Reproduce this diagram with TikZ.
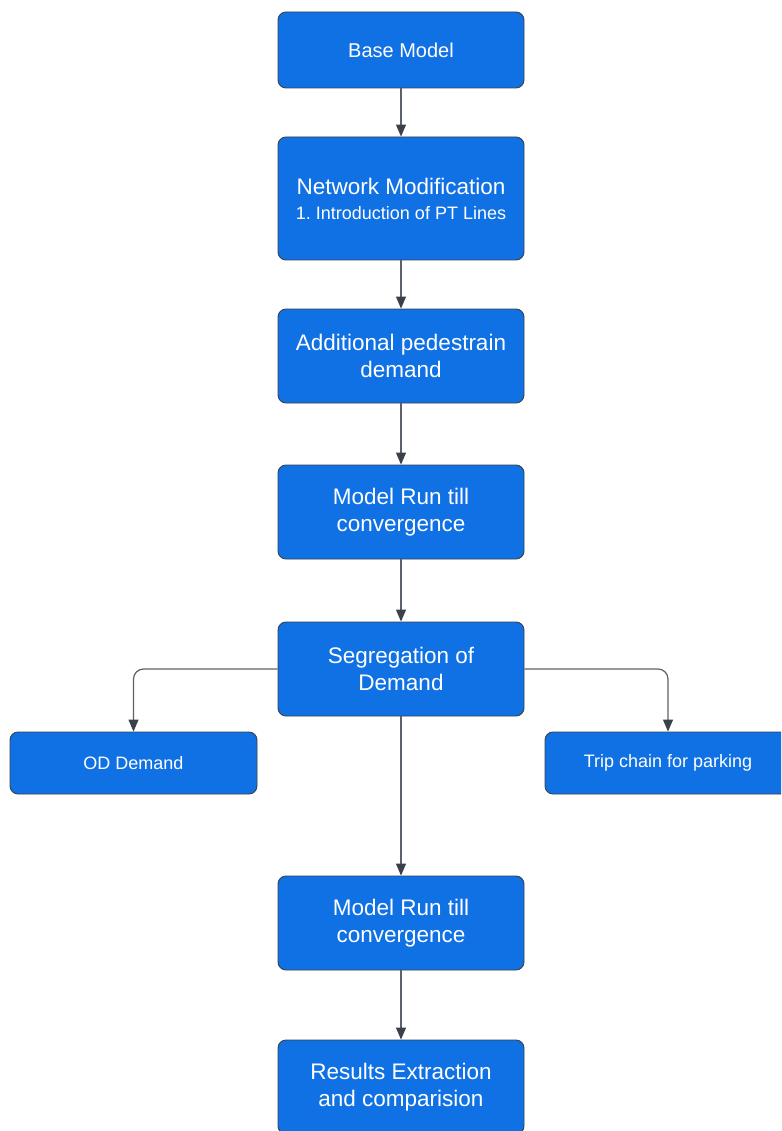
\documentclass[tikz,border=0pt]{standalone}
\usepackage{fontspec}
\setmainfont{Liberation Sans}
\usepackage{tikz}
\usetikzlibrary{arrows.meta}
\definecolor{boxblue}{RGB}{16,113,229}
\definecolor{boxedge}{RGB}{58,65,74}
\definecolor{linegray}{RGB}{92,98,106}
\frenchspacing

\begin{document}
\begin{tikzpicture}[x=1pt,y=-1pt,
    stage/.style={rectangle,rounded corners=8pt,fill=boxblue,draw=boxedge,line width=0.9pt,
        minimum width=246pt,minimum height=94pt,inner sep=0pt,align=center,text=white,
        font=\fontsize{22.5}{27}\selectfont},
    conn/.style={draw=linegray,line width=1.2pt,rounded corners=10pt,
        -{Triangle[length=12pt,width=10pt,color=boxedge]}}]
\path[use as bounding box,clip] (0,0) rectangle (781,1131);
\node[stage,minimum height=76pt,font=\fontsize{20}{24}\selectfont] (base) at (401,50) {Base Model};
\node[stage,minimum height=123pt] (netmod) at (401,198.5) {Network Modification\\[-2pt]{\fontsize{18}{22}\selectfont 1. Introduction of PT Lines}};
\node[stage] (ped) at (401,356) {Additional pedestrain\\demand};
\node[stage] (run) at (401,512) {Model Run till\\convergence};
\node[stage] (seg) at (401,669) {Segregation of\\Demand};
\node[stage,minimum width=247pt,minimum height=62pt,font=\fontsize{18}{22}\selectfont] (od) at (133.5,763) {OD Demand};
\node[stage,minimum height=62pt,font=\fontsize{18}{22}\selectfont] (trip) at (668,763) {Trip chain for parking};
\node[stage] (run2) at (401,923) {Model Run till\\convergence};
\node[stage] (res) at (401,1087) {Results Extraction\\and comparision};

\draw[conn] (base) -- (netmod);
\draw[conn] (netmod) -- (ped);
\draw[conn] (ped) -- (run);
\draw[conn] (run) -- (seg);
\draw[conn] (seg.west) -| (od.north);
\draw[conn] (seg.east) -| (trip.north);
\draw[conn] (seg) -- (run2);
\draw[conn] (run2) -- (res);
\end{tikzpicture}
\end{document}
